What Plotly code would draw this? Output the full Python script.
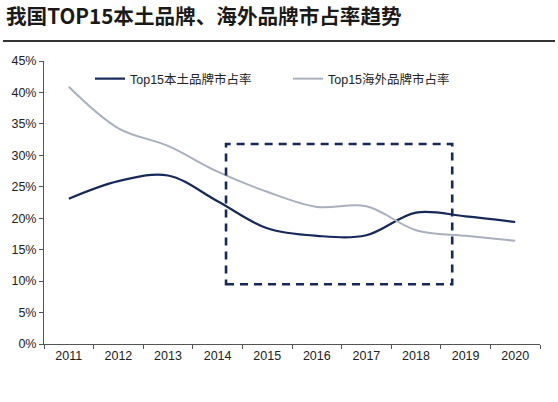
import plotly.graph_objects as go

years = ["2011", "2012", "2013", "2014", "2015", "2016", "2017", "2018", "2019", "2020"]
domestic = [23.1, 25.9, 26.8, 22.7, 18.4, 17.2, 17.3, 20.9, 20.3, 19.4]
foreign = [40.9, 34.3, 31.5, 27.4, 24.2, 21.8, 21.9, 18.1, 17.2, 16.4]
y_ticks = [0, 5, 10, 15, 20, 25, 30, 35, 40, 45]
y_tick_labels = [f"{v}%" for v in y_ticks]
highlight_x = [3.17, 7.73]   # category index span of the dashed box
highlight_y = [9.5, 31.8]    # percent span of the dashed box

NAVY = "#17295A"
GRAY = "#A8B0BE"
FONT = "Arial, Liberation Sans, Noto Sans CJK SC, sans-serif"

L, R, T, B = 44, 18, 61, 58
PW, PH = 558 - L - R, 402 - T - B

def px_x(px):
    return (px - L) / PW

def px_y(py):
    return (402 - B - py) / PH

fig = go.Figure()
fig.add_trace(go.Scatter(x=years, y=domestic, mode="lines", name="Top15本土品牌市占率",
                         line=dict(color=NAVY, width=2.2, shape="spline", smoothing=1.0)))
fig.add_trace(go.Scatter(x=years, y=foreign, mode="lines", name="Top15海外品牌市占率",
                         line=dict(color=GRAY, width=2.0, shape="spline", smoothing=1.0)))

fig.add_shape(type="rect", xref="x", yref="y",
              x0=highlight_x[0], x1=highlight_x[1], y0=highlight_y[0], y1=highlight_y[1],
              line=dict(color=NAVY, width=2.6, dash="8px,6px"), fillcolor="rgba(0,0,0,0)")

# separator line under title
fig.add_shape(type="line", xref="paper", yref="paper",
              x0=px_x(3), x1=px_x(555), y0=px_y(41), y1=px_y(41),
              line=dict(color="#333333", width=2.2))

fig.add_annotation(text="<b>我国TOP15本土品牌、海外品牌市占率趋势</b>",
                   xref="paper", yref="paper", x=px_x(4), y=px_y(15),
                   xanchor="left", yanchor="middle", showarrow=False,
                   font=dict(family="Noto Sans CJK SC, sans-serif", size=20.6, color="#1a1a1a"))

fig.update_layout(
    width=558, height=402,
    margin=dict(l=L, r=R, t=T, b=B),
    paper_bgcolor="white", plot_bgcolor="white",
    font=dict(family=FONT, size=12.5, color="#222222"),
    showlegend=True,
    legend=dict(orientation="h", x=px_x(90), y=px_y(64), xanchor="left", yanchor="top",
                bgcolor="rgba(0,0,0,0)", font=dict(size=12.5, family=FONT, color="#222222"),
                entrywidth=153, entrywidthmode="pixels", itemwidth=30),
    xaxis=dict(type="category", tickson="boundaries", ticks="outside", ticklen=4,
               tickcolor="#555555", showline=True, linecolor="#555555", linewidth=1,
               showgrid=False, tickfont=dict(size=12.5, family=FONT), range=[-0.5, 9.5]),
    yaxis=dict(range=[0, 45], tickvals=y_ticks, ticktext=y_tick_labels, ticks="outside",
               ticklen=4, tickcolor="#555555", showline=True, linecolor="#555555",
               linewidth=1, showgrid=False, zeroline=False,
               tickfont=dict(size=12.5, family=FONT)),
)

fig.write_html("out.html", config={"displayModeBar": False},
               post_script="document.body.style.margin='0';document.body.style.padding='0';")
